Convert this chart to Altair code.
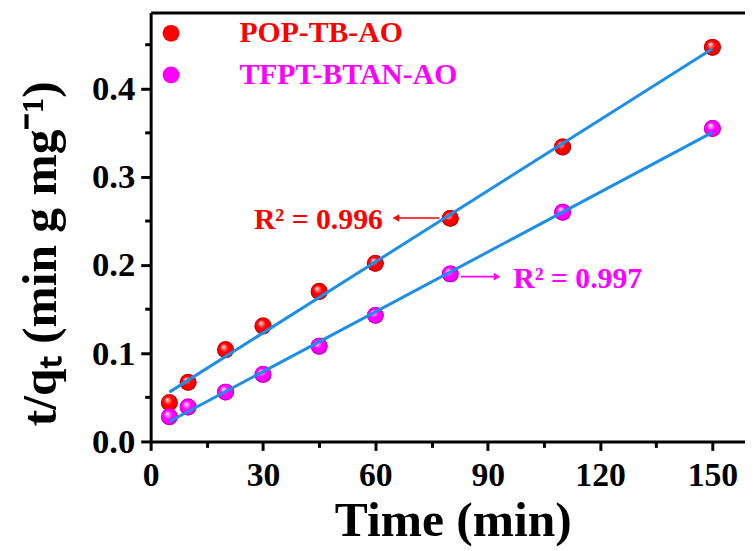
import altair as alt
import pandas as pd

# ---- data ----
time_min = [5, 10, 20, 30, 45, 60, 80, 110, 150]
pop_tb_ao = [0.044, 0.067, 0.104, 0.131, 0.170, 0.202, 0.253, 0.334, 0.447]
tfpt_btan_ao = [0.028, 0.039, 0.056, 0.076, 0.108, 0.143, 0.190, 0.260, 0.355]
series_names = ["POP-TB-AO", "TFPT-BTAN-AO"]
series_colors = ["#ff0000", "#ff00ff"]

x_ticks = [0, 30, 60, 90, 120, 150]
x_minor = [15, 45, 75, 105, 135]
y_ticks = [0.0, 0.1, 0.2, 0.3, 0.4]
y_minor = [0.05, 0.15, 0.25, 0.35, 0.45]

# annotations (R^2 labels with arrows), anchored in data units
r2_text = ["R² = 0.996", "R² = 0.997"]
r2_text_x = [62.0, 96.8]
r2_text_y = [0.2506, 0.1840]
r2_align = ["right", "left"]
arrow_from = [77.0, 82.8]
arrow_to = [65.5, 92.5]
arrow_y = [0.2534, 0.1869]
arrow_shape = ["triangle-left", "triangle-right"]

# ---- tables ----
df = pd.DataFrame({
    "time": time_min * 2,
    "value": pop_tb_ao + tfpt_btan_ao,
    "series": [series_names[0]] * len(time_min) + [series_names[1]] * len(time_min),
})
ann = pd.DataFrame({
    "label": r2_text, "tx": r2_text_x, "ty": r2_text_y, "align": r2_align,
    "a1": arrow_from, "a2": arrow_to, "ay": arrow_y, "shape": arrow_shape,
    "series": series_names,
})

FONT = "Liberation Serif"
xs = alt.Scale(domain=[0, 158.7], nice=False, zero=False)
ys = alt.Scale(domain=[0, 0.4865], nice=False, zero=False)
col_scale = alt.Scale(domain=series_names, range=series_colors)

x_major = alt.Axis(orient="bottom", values=x_ticks, format="d", grid=False,
                   tickSize=9, tickWidth=3, tickColor="black",
                   domainWidth=3, domainColor="black",
                   labelFont=FONT, labelFontSize=34, labelFontWeight="bold",
                   labelColor="black", labelPadding=8, labelFlush=False,
                   title="Time (min)", titleFont=FONT, titleFontSize=50,
                   titleFontWeight="bold", titleColor="black",
                   titleX=305, titleY=95, titleAlign="center",
                   titleBaseline="alphabetic")
y_major = alt.Axis(orient="left", values=y_ticks, format=".1f", grid=False,
                   tickSize=10, tickWidth=3, tickColor="black",
                   domainWidth=3, domainColor="black",
                   labelFont=FONT, labelFontSize=35, labelFontWeight="bold",
                   labelColor="black", labelPadding=6, labelFlush=False,
                   title="t/qₜ (min g mg⁻¹)", titleFont=FONT, titleFontSize=50,
                   titleFontWeight="bold", titleColor="black",
                   titleAngle=270, titleX=-96, titleY=243, titleAlign="center",
                   titleBaseline="alphabetic")
x_minor_axis = alt.Axis(orient="bottom", values=x_minor, grid=False, labels=False,
                        domain=False, tickSize=6, tickWidth=3, tickColor="black",
                        title=None)
y_minor_axis = alt.Axis(orient="left", values=y_minor, grid=False, labels=False,
                        domain=False, tickSize=6, tickWidth=3, tickColor="black",
                        title=None)
x_top_axis = alt.Axis(orient="top", grid=False, labels=False, ticks=False,
                      domain=True, domainWidth=3, domainColor="black", title=None)


def sphere(color, light, dark):
    return alt.RadialGradient(
        gradient="radial",
        x1=0.35, y1=0.3, r1=0.0,
        x2=0.5, y2=0.5, r2=0.5,
        stops=[
            alt.GradientStop(color="#ffffff", offset=0.0),
            alt.GradientStop(color=light, offset=0.18),
            alt.GradientStop(color=color, offset=0.5),
            alt.GradientStop(color=color, offset=0.8),
            alt.GradientStop(color=dark, offset=1.0),
        ],
    )


base = alt.Chart(df)

points = base.mark_circle(size=290, opacity=1).encode(
    x=alt.X("time:Q", scale=xs, axis=x_major),
    y=alt.Y("value:Q", scale=ys, axis=y_major),
    color=alt.Color("series:N", scale=col_scale, legend=alt.Legend(
        title=None, orient="none", legendX=5.6, legendY=6, padding=0,
        symbolType="circle", symbolSize=290, symbolStrokeWidth=0,
        labelFont=FONT, labelFontSize=30, labelFontWeight="bold",
        labelColor=alt.ExprRef(expr="datum.label == 'POP-TB-AO' ? '#ff0000' : '#ff00ff'"),
        labelOffset=54, rowPadding=12, labelLimit=400)),
)

shaded = []
for name, c, l, d in zip(series_names, series_colors,
                         ["#ff9090", "#ff9cff"], ["#b00000", "#b000b0"]):
    shaded.append(
        base.transform_filter(alt.datum.series == name)
        .mark_circle(size=290, opacity=1, fill=sphere(c, l, d), strokeWidth=0)
        .encode(x=alt.X("time:Q", scale=xs, axis=None),
                y=alt.Y("value:Q", scale=ys, axis=None))
    )

fit = base.transform_regression(
    "time", "value", groupby=["series"], extent=[5, 150]
).mark_line(color="#1e8fe8", strokeWidth=3).encode(
    x=alt.X("time:Q", scale=xs, axis=x_minor_axis),
    y=alt.Y("value:Q", scale=ys, axis=y_minor_axis),
    detail="series:N",
)

abase = alt.Chart(ann)
arrow_lines = abase.mark_rule(strokeWidth=1.6).encode(
    x=alt.X("a1:Q", scale=xs, axis=x_top_axis),
    x2="a2:Q",
    y=alt.Y("ay:Q", scale=ys, axis=None),
    color=alt.Color("series:N", scale=col_scale, legend=None),
)
arrow_heads = abase.mark_point(filled=True, size=60, opacity=1).encode(
    x=alt.X("a2:Q", scale=xs, axis=None),
    y=alt.Y("ay:Q", scale=ys, axis=None),
    shape=alt.Shape("shape:N", scale=None, legend=None),
    color=alt.Color("series:N", scale=col_scale, legend=None),
)
labels_right = abase.transform_filter(alt.datum.align == "right").mark_text(
    font=FONT, fontSize=30, fontWeight="bold", align="right", baseline="middle"
).encode(
    x=alt.X("tx:Q", scale=xs, axis=None),
    y=alt.Y("ty:Q", scale=ys, axis=None),
    text="label:N",
    color=alt.Color("series:N", scale=col_scale, legend=None),
)
labels_left = abase.transform_filter(alt.datum.align == "left").mark_text(
    font=FONT, fontSize=30, fontWeight="bold", align="left", baseline="middle"
).encode(
    x=alt.X("tx:Q", scale=xs, axis=None),
    y=alt.Y("ty:Q", scale=ys, axis=None),
    text="label:N",
    color=alt.Color("series:N", scale=col_scale, legend=None),
)

chart = alt.layer(
    points, *shaded, fit, arrow_lines, arrow_heads, labels_right, labels_left
).resolve_axis(
    x="independent", y="independent"
).properties(
    width=600, height=433,
    autosize=alt.AutoSizeParams(type="none"),
    padding={"left": 144, "top": 2, "right": 0, "bottom": 103},
    background="white",
).configure_view(stroke=None)

chart.save("out.html", embed_options={"renderer": "svg", "actions": False})
